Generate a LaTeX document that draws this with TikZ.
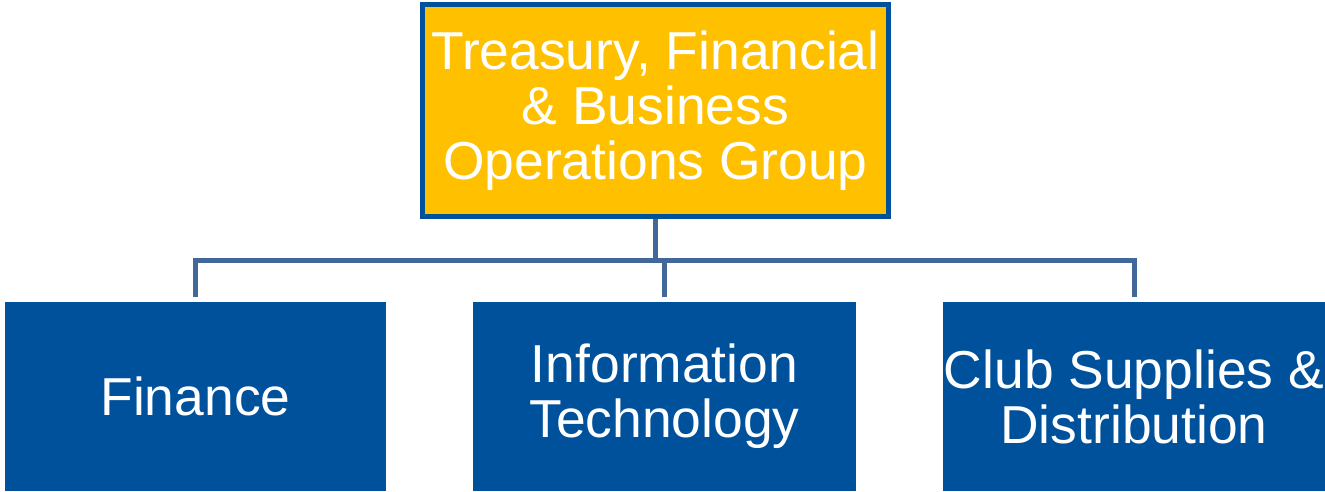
\documentclass[tikz,border=0pt]{standalone}
\usepackage{fontspec}
\setmainfont{Liberation Sans}
\definecolor{grpyellow}{HTML}{FFC000}
\definecolor{grpblue}{HTML}{00519B}
\definecolor{linkblue}{HTML}{416898}
\tikzset{
  headbox/.style={draw=grpblue, line width=0.1cm, fill=grpyellow, text=white,
    minimum width=9.32cm, minimum height=4.24cm, align=center,
    font=\fontsize{30.4}{31.4}\selectfont, inner sep=0pt},
  unitbox/.style={fill=grpblue, text=white, minimum height=3.78cm, align=center,
    font=\fontsize{30.4}{31.4}\selectfont, inner sep=0pt},
  link/.style={draw=linkblue, line width=0.1cm}
}
\begin{document}
\begin{tikzpicture}[x=0.02cm, y=-0.02cm]
        \useasboundingbox (0,0) rectangle (1325,491);
        \node[headbox] (grp) at (655.5,110.5) {Treasury, Financial\\\& Business\\Operations Group};
        \node[unitbox, minimum width=7.62cm] (fin) at (195.5,396.5) {Finance};
        \node[unitbox, minimum width=7.66cm] (it) at (664.5,396.5) {Information\\Technology};
        \node[unitbox, minimum width=7.64cm] (club) at (1134,396.5) {Club Supplies \&\\Distribution};
        \coordinate (bus) at (655,260);
        % links
        \draw[link] (grp.south) -- (grp.south |- bus);
        \draw[link, shorten <=0.1cm, shorten >=0.1cm] (fin.north) |- (bus) -| (club.north);
        \draw[link, shorten >=0.1cm] (bus -| it.north) -- (it.north);
\end{tikzpicture}
\end{document}
